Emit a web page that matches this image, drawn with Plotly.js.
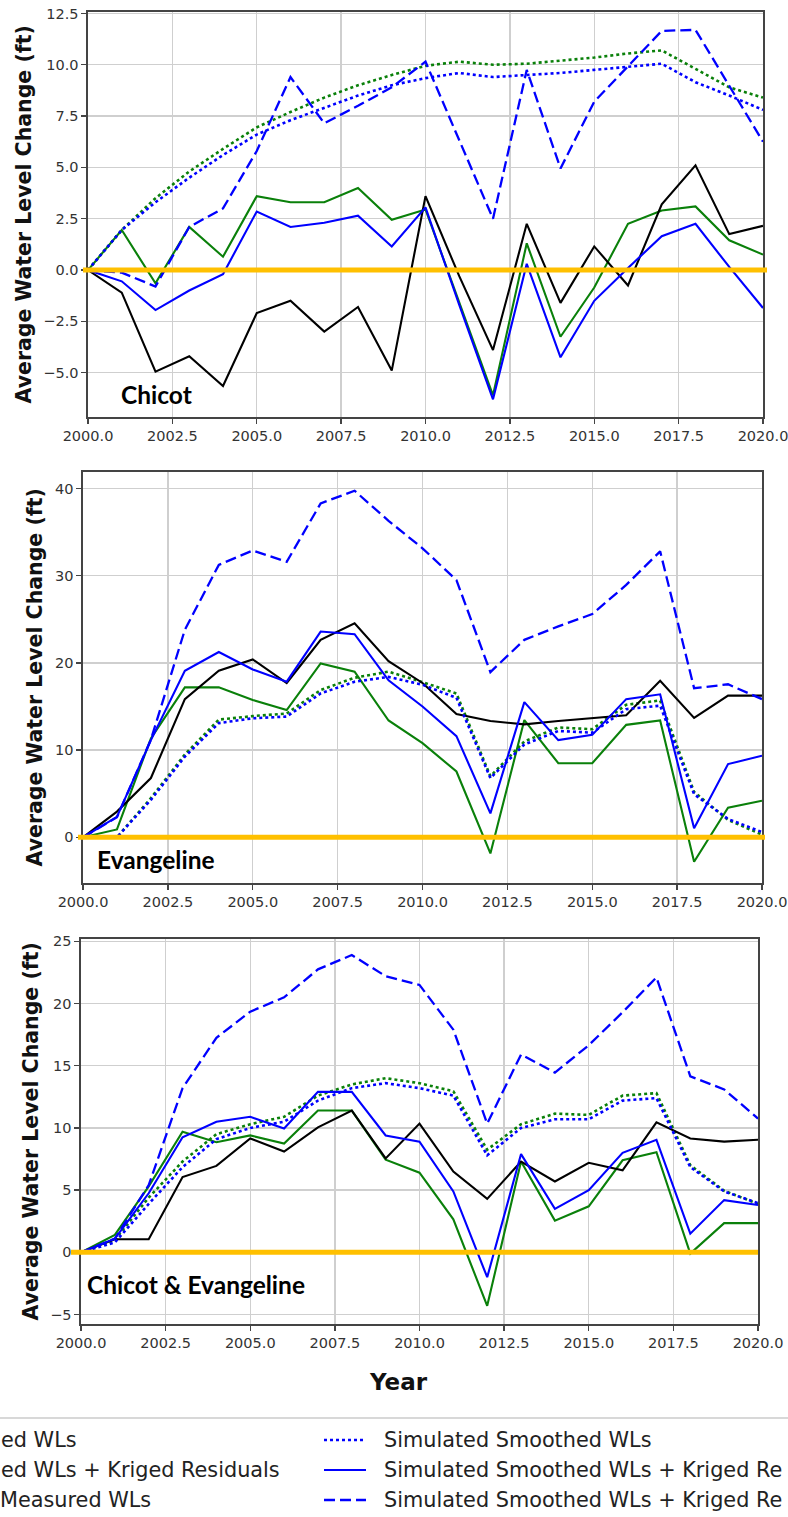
<!DOCTYPE html>
<html>
<head>
<meta charset="utf-8">
<script src="https://cdn.plot.ly/plotly-3.0.1.min.js"></script>
<style>html,body{margin:0;padding:0;background:#fff;}#chart{width:788px;height:1517px;}</style>
</head>
<body>
<div id="chart"></div>
<script>
// ---------- data ----------
const years = [2000,2001,2002,2003,2004,2005,2006,2007,2008,2009,2010,2011,2012,2013,2014,2015,2016,2017,2018,2019,2020];
const xTickVals = [2000,2002.5,2005,2007.5,2010,2012.5,2015,2017.5,2020];

// Chicot
const chicotSimWL        = [0,1.95,3.5,4.8,5.9,6.95,7.7,8.4,9.0,9.5,9.95,10.15,10.0,10.05,10.2,10.35,10.55,10.7,9.8,8.9,8.4];
const chicotSimKriged    = [0,1.95,-0.65,2.1,0.65,3.6,3.3,3.3,4.0,2.45,2.95,-1.55,-6.1,1.3,-3.25,-0.85,2.25,2.9,3.1,1.45,0.75];
const chicotMeasured     = [0,-1.1,-4.95,-4.2,-5.65,-2.1,-1.5,-3.0,-1.8,-4.9,3.6,-0.3,-3.9,2.25,-1.6,1.15,-0.75,3.2,5.1,1.75,2.15];
const chicotSmoothed     = [0,1.95,3.3,4.5,5.6,6.6,7.3,7.9,8.5,9.0,9.35,9.6,9.4,9.5,9.6,9.75,9.9,10.05,9.15,8.5,7.8];
const chicotSmoothedKrig = [0,-0.55,-1.95,-1.0,-0.2,2.85,2.1,2.3,2.65,1.15,3.05,-1.7,-6.3,0.3,-4.25,-1.5,0.1,1.65,2.25,0.15,-1.85];
const chicotSmoothedKrig2= [0,-0.13,-0.8,2.1,3.0,5.8,9.4,7.15,8.0,8.9,10.15,6.35,2.5,9.75,4.95,8.2,9.9,11.65,11.7,8.95,6.25];

// Evangeline
const evanSimWL        = [0,0,4.5,9.5,13.5,13.9,14.2,16.9,18.3,19.0,17.8,16.5,7.0,11.0,12.6,12.4,15.2,15.7,5.2,2.0,0.3];
const evanSimKriged    = [0,0.9,11.35,17.2,17.2,15.75,14.6,19.95,19.0,13.4,10.8,7.55,-1.85,13.45,8.5,8.5,12.9,13.4,-2.8,3.4,4.2];
const evanMeasured     = [0,2.95,6.8,15.85,19.1,20.4,17.7,22.65,24.55,20.2,17.7,14.15,13.35,12.95,13.35,13.7,14.0,17.95,13.7,16.25,16.25];
const evanSmoothed     = [0,0,4.3,9.25,13.1,13.65,13.85,16.5,17.85,18.4,17.5,16.0,6.8,10.65,12.2,12.0,14.7,15.1,4.95,2.1,0.6];
const evanSmoothedKrig = [0,2.35,11.15,19.1,21.25,19.25,17.85,23.6,23.3,18.0,15.0,11.6,2.75,15.5,11.15,11.75,15.85,16.4,1.05,8.4,9.35];
const evanSmoothedKrig2= [0,2.3,11.2,23.8,31.25,32.9,31.6,38.3,39.75,36.3,33.15,29.5,18.95,22.65,24.2,25.6,28.95,32.8,17.1,17.55,15.85];

// Chicot & Evangeline
const bothSimWL        = [0,1.0,4.4,7.3,9.5,10.3,10.9,12.6,13.5,14.0,13.6,12.95,8.25,10.3,11.15,11.05,12.6,12.8,7.0,4.95,3.9];
const bothSimKriged    = [0,1.4,5.3,9.7,8.85,9.4,8.75,11.4,11.4,7.45,6.4,2.65,-4.3,7.3,2.55,3.7,7.4,8.05,-0.1,2.35,2.35];
const bothMeasured     = [0,1.05,1.05,6.05,6.95,9.15,8.1,10.05,11.4,7.55,10.35,6.5,4.3,7.3,5.7,7.2,6.6,10.45,9.15,8.9,9.05];
const bothSmoothed     = [0,0.8,3.9,6.85,9.1,10.0,10.5,12.2,13.2,13.6,13.2,12.6,7.8,10.0,10.7,10.7,12.2,12.4,6.85,4.9,3.95];
const bothSmoothedKrig = [0,1.1,4.75,9.25,10.5,10.9,9.95,12.9,12.9,9.4,8.9,4.9,-2.0,7.9,3.5,5.0,8.0,9.05,1.5,4.2,3.8];
const bothSmoothedKrig2= [0,1.1,5.4,13.2,17.25,19.35,20.5,22.75,23.9,22.2,21.5,17.9,10.35,15.9,14.45,16.65,19.3,22.1,14.15,13.1,10.75];

const panelNames = ["Chicot", "Evangeline", "Chicot & Evangeline"];
// legend texts as they appear in the (cropped) picture
const legendLeft  = ["ed WLs", "ed WLs + Kriged Residuals", "Measured WLs"];
const legendRight = ["Simulated Smoothed WLs", "Simulated Smoothed WLs + Kriged Re", "Simulated Smoothed WLs + Kriged Re"];
const yTitle = "Average Water Level Change (ft)";
const xTitle = "Year";

// ---------- styling ----------
const W = 788, H = 1517;
const GREEN = "#0a800a", BLUE = "#0000ff", BLACK = "#000000", GOLD = "#ffc000";
const px = v => v / W;
const py = v => 1 - v / H;

const panels = [
  {data:[chicotSimWL,chicotSimKriged,chicotMeasured,chicotSmoothed,chicotSmoothedKrig,chicotSmoothedKrig2],
   left:88,right:763,top:12,bottom:417,range:[-7.16,12.57],tickvals:[-5,-2.5,0,2.5,5,7.5,10,12.5],fmt:".1f",
   label:{x:119,y:394}, zx:[83,767], title:{x:24}},
  {data:[evanSimWL,evanSimKriged,evanMeasured,evanSmoothed,evanSmoothedKrig,evanSmoothedKrig2],
   left:83,right:762,top:472,bottom:883,range:[-5.24,41.9],tickvals:[0,10,20,30,40],fmt:"d",
   label:{x:95,y:859}, zx:[78,765], title:{x:35}},
  {data:[bothSimWL,bothSimKriged,bothMeasured,bothSmoothed,bothSmoothedKrig,bothSmoothedKrig2],
   left:81,right:758,top:939,bottom:1324,range:[-5.76,25.19],tickvals:[-5,0,5,10,15,20,25],fmt:"d",
   label:{x:85,y:1284}, zx:[71,758], title:{x:30}}
];

const styles = [
  {color:GREEN, dash:"3px,3px", width:2.6},
  {color:GREEN, dash:"solid",   width:2.1},
  {color:BLACK, dash:"solid",   width:2.1},
  {color:BLUE,  dash:"3px,3px", width:2.6},
  {color:BLUE,  dash:"solid",   width:2.1},
  {color:BLUE,  dash:"11px,5px",width:2.3}
];

const traces = [];
const layout = {
  width: W, height: H,
  margin: {l:0, r:0, t:0, b:0, autoexpand:false},
  paper_bgcolor: "#fff", plot_bgcolor: "#fff",
  showlegend: false,
  font: {family: "DejaVu Sans", color: "#333"},
  shapes: [], annotations: []
};

const axisCommon = {
  showgrid: true, gridcolor: "#cfcfcf", gridwidth: 1.4,
  showline: true, linecolor: "#444", linewidth: 1.6, mirror: true,
  ticks: "outside", ticklen: 5, tickwidth: 1.4, tickcolor: "#444",
  tickfont: {family: "DejaVu Sans", size: 14.5, color: "#333"},
  zeroline: false, ticklabeloverflow: "allow"
};

panels.forEach((p, i) => {
  const n = i === 0 ? "" : String(i + 1);
  const xa = "x" + n, ya = "y" + n;
  layout["xaxis" + n] = Object.assign({}, axisCommon, {
    domain: [px(p.left), px(p.right)], anchor: ya,
    range: [2000, 2020], tickmode: "array", tickvals: xTickVals,
    ticktext: xTickVals.map(v => v.toFixed(1))
  });
  layout["yaxis" + n] = Object.assign({}, axisCommon, {
    domain: [py(p.bottom), py(p.top)], anchor: xa,
    range: p.range, tickmode: "array", tickvals: p.tickvals,
    ticktext: p.tickvals.map(v => (v < 0 ? "\u2212" : "") + (p.fmt === ".1f" ? Math.abs(v).toFixed(1) : String(Math.abs(v))))
  });
  p.data.forEach((arr, k) => {
    const s = styles[k];
    traces.push({
      x: years, y: arr, xaxis: xa, yaxis: ya, type: "scatter", mode: "lines",
      line: {color: s.color, width: s.width, dash: s.dash},
      hoverinfo: "skip"
    });
  });
  // zero reference line
  layout.shapes.push({
    type: "line", layer: "above", xref: "paper", yref: ya,
    x0: px(p.zx[0]), x1: px(p.zx[1]), y0: 0, y1: 0,
    line: {color: GOLD, width: 5}
  });
  // panel name
  layout.annotations.push({
    xref: "paper", yref: "paper", x: px(p.label.x), y: py(p.label.y),
    xanchor: "left", yanchor: "middle", showarrow: false,
    text: panelNames[i],
    font: {family: "Lato", size: 24.5, color: "#000", weight: "bold"}
  });
  // y-axis title
  layout.annotations.push({
    xref: "paper", yref: "paper", x: px(p.title.x), y: py((p.top + p.bottom) / 2),
    xanchor: "center", yanchor: "middle", showarrow: false, textangle: -90,
    text: "<b>" + yTitle + "</b>",
    font: {family: "DejaVu Sans", size: 20.5, color: "#111"}
  });
});

// x-axis title
layout.annotations.push({
  xref: "paper", yref: "paper", x: px(398), y: py(1382),
  xanchor: "center", yanchor: "middle", showarrow: false,
  text: "<b>" + xTitle + "</b>",
  font: {family: "DejaVu Sans", size: 23, color: "#111"}
});

// legend frame (only its top edge falls inside the picture)
layout.shapes.push({
  type: "rect", xref: "paper", yref: "paper", layer: "above",
  x0: -0.4, x1: 1.4, y0: -0.3, y1: py(1418),
  line: {color: "#cccccc", width: 1.6}, fillcolor: "rgba(0,0,0,0)"
});
const rowsY = [1440, 1470, 1500];
const leftEnds = [79, 282, 153];
const legendStyles = [styles[3], styles[4], styles[5]];
rowsY.forEach((ry, r) => {
  const s = legendStyles[r];
  layout.shapes.push({
    type: "line", xref: "paper", yref: "paper", layer: "above",
    x0: px(324), x1: px(366), y0: py(ry), y1: py(ry),
    line: {color: s.color, width: s.width, dash: s.dash}
  });
  layout.annotations.push({
    xref: "paper", yref: "paper", x: px(382), y: py(ry),
    xanchor: "left", yanchor: "middle", showarrow: false,
    text: legendRight[r], font: {family: "DejaVu Sans", size: 20.8, color: "#222"}
  });
  layout.annotations.push({
    xref: "paper", yref: "paper", x: px(leftEnds[r]), y: py(ry),
    xanchor: "right", yanchor: "middle", showarrow: false,
    text: legendLeft[r], font: {family: "DejaVu Sans", size: 20.8, color: "#222"}
  });
});

Plotly.newPlot("chart", traces, layout, {staticPlot: true, displayModeBar: false});
</script>
</body>
</html>
